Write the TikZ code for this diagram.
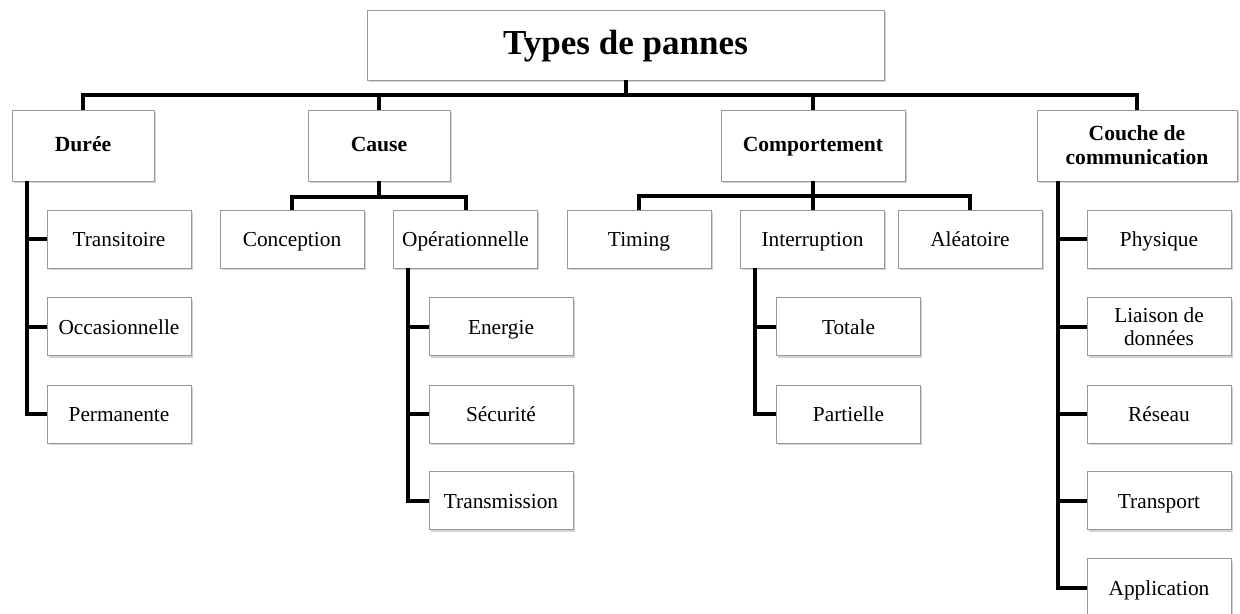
\documentclass[tikz,border=0pt]{standalone}
\usepackage{fontspec}
\setmainfont{Liberation Serif}
\usetikzlibrary{shadows}
\begin{document}
\begin{tikzpicture}[x=0.75pt,y=-0.75pt,
  box/.style={draw=black!40, line width=0.6pt, fill=white, rectangle, inner sep=0pt, align=center,
    drop shadow={opacity=0.35, shadow xshift=1.2pt, shadow yshift=-1.8pt},
    font=\fontsize{16}{17}\selectfont},
  lvlone/.style={box, minimum height=53.25pt, font=\fontsize{16.2}{18}\selectfont\bfseries},
  leaf/.style={box, minimum width=108pt, minimum height=43.5pt},
  oneline/.style={text height=11.6pt, text depth=0pt},
  boldline/.style={text height=9.3pt, text depth=0pt},
  conn/.style={line width=3pt, line join=miter, black}
]
\useasboundingbox (0,0) rectangle (1240,614);
% title
\node[box, minimum width=387.75pt, minimum height=52.5pt, text height=15pt, text depth=0pt, font=\fontsize{26.3}{28}\selectfont\bfseries] (title) at (625.5,45) {Types de pannes};
% level one
\node[lvlone, boldline, minimum width=106.5pt] (duree) at (83,145.5) {Durée};
\node[lvlone, boldline, minimum width=106.5pt] (cause) at (379,145.5) {Cause};
\node[lvlone, boldline, minimum width=138pt] (comp) at (813,145.5) {Comportement};
\node[lvlone, minimum width=150pt] (couche) at (1137,145.5) {Couche de\\communication};
% Durée children
\node[leaf, oneline] (trans) at (119,239) {Transitoire};
\node[leaf, oneline] (occas) at (119,326.5) {Occasionnelle};
\node[leaf, oneline] (perm) at (119,414) {Permanente};
% Cause children
\node[leaf, oneline] (conc) at (292,239) {Conception};
\node[leaf, oneline] (oper) at (465.5,239) {Opérationnelle};
\node[leaf, oneline] (ener) at (501,326.5) {Energie};
\node[leaf, oneline] (secu) at (501,414) {Sécurité};
\node[leaf, oneline] (trsm) at (501,500.5) {Transmission};
% Comportement children
\node[leaf, oneline] (timing) at (639,239) {Timing};
\node[leaf, oneline] (inter) at (812.5,239) {Interruption};
\node[leaf, oneline] (alea) at (970,239) {Aléatoire};
\node[leaf, oneline] (tot) at (848.5,326.5) {Totale};
\node[leaf, oneline] (part) at (848.5,414) {Partielle};
% Couche children
\node[leaf, oneline] (phys) at (1159,239) {Physique};
\node[leaf] (liais) at (1159,326.5) {Liaison de\\données};
\node[leaf, oneline] (res) at (1159,414) {Réseau};
\node[leaf, oneline] (trsp) at (1159,500.5) {Transport};
\node[leaf, oneline] (appl) at (1159,587.5) {Application};
% main bus
\coordinate (bus) at (0,95);
\draw[conn] (duree.north) -- (duree.north |- bus) -- (couche.north |- bus) -- (couche.north);
\draw[conn] (title.south) -- (title.south |- bus);
\draw[conn] (cause.north) -- (cause.north |- bus);
\draw[conn] (comp.north) -- (comp.north |- bus);
% Cause sub-bus
\coordinate (cbus) at (0,196.5);
\draw[conn] (conc.north) -- (conc.north |- cbus) -- (oper.north |- cbus) -- (oper.north);
\draw[conn] (cause.south) -- (cause.south |- cbus);
% Comportement sub-bus
\coordinate (kbus) at (0,195.5);
\draw[conn] (timing.north) -- (timing.north |- kbus) -- (alea.north |- kbus) -- (alea.north);
\draw[conn] (comp.south) -- (comp.south |- kbus);
\draw[conn] (inter.north) -- (inter.north |- kbus);
% Durée trunk
\coordinate (dt) at (27,181);
\draw[conn] (dt) -- (dt |- perm.west) -- (perm.west);
\draw[conn] (trans.west) -- (trans.west -| dt);
\draw[conn] (occas.west) -- (occas.west -| dt);
% Opérationnelle trunk
\coordinate (ot) at (408,268);
\draw[conn] (ot) -- (ot |- trsm.west) -- (trsm.west);
\draw[conn] (ener.west) -- (ener.west -| ot);
\draw[conn] (secu.west) -- (secu.west -| ot);
% Interruption trunk
\coordinate (it) at (755,268);
\draw[conn] (it) -- (it |- part.west) -- (part.west);
\draw[conn] (tot.west) -- (tot.west -| it);
% Couche trunk
\coordinate (ct) at (1058,181);
\draw[conn] (ct) -- (ct |- appl.west) -- (appl.west);
\draw[conn] (phys.west) -- (phys.west -| ct);
\draw[conn] (liais.west) -- (liais.west -| ct);
\draw[conn] (res.west) -- (res.west -| ct);
\draw[conn] (trsp.west) -- (trsp.west -| ct);
\end{tikzpicture}
\end{document}
